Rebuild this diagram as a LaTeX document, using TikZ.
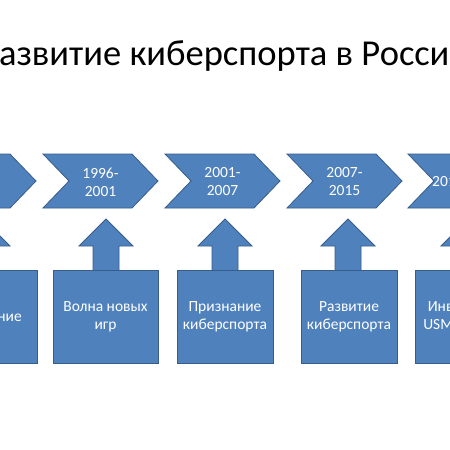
\documentclass[tikz,border=0pt]{standalone}
\usepackage{fontspec}
\setmainfont{Carlito}
\definecolor{fillblue}{HTML}{4F81BD}
\definecolor{lineblue}{HTML}{385D8A}
\begin{document}
\begin{tikzpicture}[x=1pt,y=-1pt,
  shp/.style={fill=fillblue,draw=lineblue,line width=0.8pt,line join=miter},
  lbl/.style={text=white,font=\fontsize{15.5}{18}\selectfont,align=center,inner sep=0pt}]
\useasboundingbox[fill=white] (0,0) rectangle (450,450);
% title
\node[anchor=base west,inner sep=0pt,font=\fontsize{36.5}{42}\selectfont] (title) at (-20,65.5) {Развитие киберспорта в России};
% chevrons
\foreach \x [count=\i] in {-79,43,165,287,408}{
  \draw[shp] (\x,154) -- ++(89,0) -- ++(26,27) -- ++(-26,27) -- ++(-89,0) -- ++(26,-27) -- cycle;
  \coordinate (c\i) at (\x+57.5,181);
}
\node[lbl] (t2) at (100.5,182) {1996-\\2001};
\node[lbl] (t3) at (222.5,182) {2001-\\2007};
\node[lbl] (t4) at (344.5,182) {2007-\\2015};
\node[lbl,anchor=west] (t5) at (432,181) {2015-2018};
% boxes and arrows
\foreach \l/\r/\c [count=\i] in {-68/37/-17,53/158/106,177/273/225,301/397/348,415/520/468}{
  \draw[shp] (\l,270) rectangle (\r,363);
  \draw[shp] (\c,219) -- (\c+27,246) -- (\c+13,246) -- (\c+13,270.4) -- (\c-13,270.4) -- (\c-13,246) -- (\c-27,246) -- cycle;
  \coordinate (b\i) at ({(\l+\r)/2},317);
}
\node[lbl,anchor=east] (u1) at (22,318) {Зарождение};
\node[lbl] (u2) at (b2) {Волна новых\\игр};
\node[lbl] (u3) at (b3) {Признание\\киберспорта};
\node[lbl] (u4) at (b4) {Развитие\\киберспорта};
\node[lbl] (u5) at (b5) {Инвестиции\\USM Holdings};
\end{tikzpicture}
\end{document}
